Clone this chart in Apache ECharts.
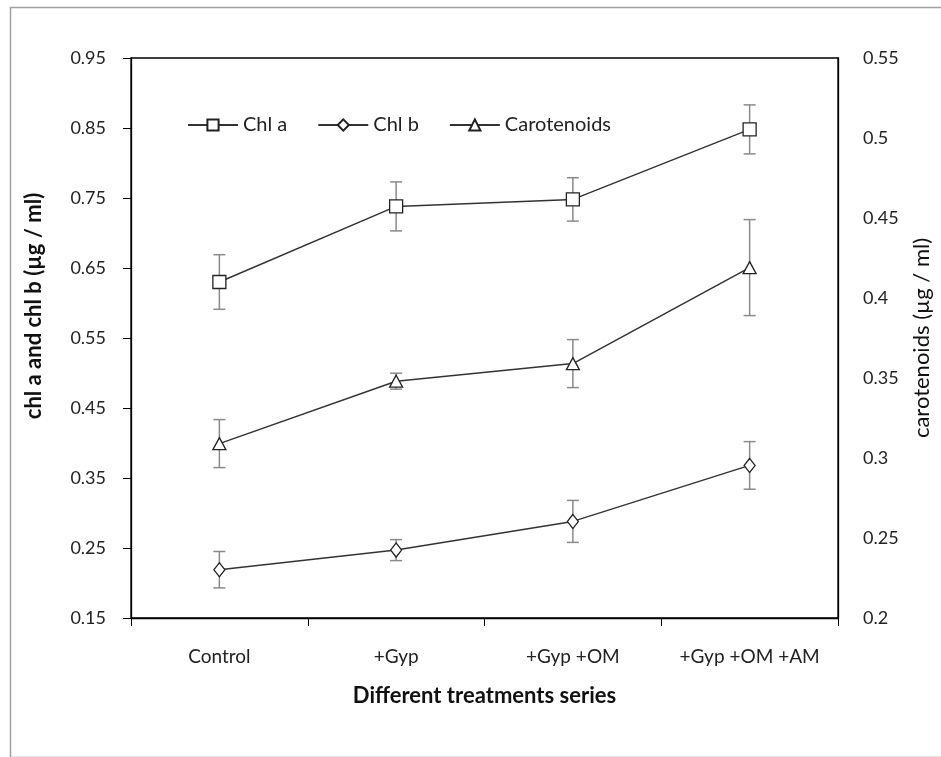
<!DOCTYPE html>
<html>
<head>
<meta charset="utf-8">
<script src="https://cdn.jsdelivr.net/npm/echarts@6/dist/echarts.min.js"></script>
<style>
  html, body { margin: 0; padding: 0; background: #fff; }
  #chart { width: 941px; height: 757px; }
</style>
</head>
<body>
<div id="chart"></div>
<script>
const categories = ["Control", "+Gyp", "+Gyp +OM", "+Gyp +OM +AM"];
const chlA = [0.63, 0.738, 0.748, 0.848];
const chlAErr = [0.039, 0.035, 0.031, 0.035];
const chlB = [0.219, 0.247, 0.288, 0.368];
const chlBErr = [0.026, 0.015, 0.03, 0.034];
const carotenoids = [0.309, 0.348, 0.359, 0.419];
const carotenoidsErr = [0.015, 0.005, 0.015, 0.03];
const leftTicks = [0.15, 0.25, 0.35, 0.45, 0.55, 0.65, 0.75, 0.85, 0.95];
const rightTicks = [0.2, 0.25, 0.3, 0.35, 0.4, 0.45, 0.5, 0.55];

const font = "Lato";
const lineColor = "#333";

// error bars: [index, low, high]
function errData(vals, errs) {
  return vals.map((v, i) => [i, v - errs[i], v + errs[i]]);
}
function renderErr(params, api) {
  const x = api.value(0);
  const lo = api.coord([x, api.value(1)]);
  const hi = api.coord([x, api.value(2)]);
  const cap = 6;
  const style = { stroke: "#8a8a8a", lineWidth: 1.5 };
  return {
    type: "group",
    children: [
      { type: "line", shape: { x1: hi[0], y1: hi[1], x2: lo[0], y2: lo[1] }, style },
      { type: "line", shape: { x1: hi[0] - cap, y1: hi[1], x2: hi[0] + cap, y2: hi[1] }, style },
      { type: "line", shape: { x1: lo[0] - cap, y1: lo[1], x2: lo[0] + cap, y2: lo[1] }, style },
    ],
  };
}
function lineSeries(name, data, symbol, size, yIdx) {
  return {
    name,
    type: "line",
    yAxisIndex: yIdx,
    data,
    symbol,
    symbolSize: size,
    showAllSymbol: true,
    z: 5,
    lineStyle: { color: lineColor, width: 1.5 },
    itemStyle: { color: "#fff", borderColor: "#222", borderWidth: 1.3 },
    emphasis: { disabled: true },
  };
}
function errSeries(vals, errs, yIdx) {
  return {
    type: "custom",
    yAxisIndex: yIdx,
    data: errData(vals, errs),
    renderItem: renderErr,
    z: 3,
    silent: true,
  };
}

const chart = echarts.init(document.getElementById("chart"));
chart.setOption({
  backgroundColor: "#fff",
  animation: false,
  textStyle: { fontFamily: font },
  graphic: [
    {
      type: "rect",
      left: 8,
      top: 5,
      shape: { width: 960, height: 750 },
      style: { fill: "none", stroke: "#a0a0a0", lineWidth: 1.5 },
      silent: true,
    },
  ],
  grid: {
    left: 131,
    right: 101,
    top: 58,
    bottom: 139,
    show: true,
    borderColor: "#000",
    borderWidth: 1.3,
    containLabel: false,
  },
  legend: {
    left: 182,
    top: 110,
    itemWidth: 50,
    itemHeight: 14,
    itemGap: 30,
    textStyle: { fontFamily: font, fontSize: 20, color: "#222" },
    data: ["Chl a", "Chl b", "Carotenoids"],
  },
  xAxis: {
    type: "category",
    data: categories,
    boundaryGap: true,
    name: "Different treatments series",
    nameLocation: "middle",
    nameGap: 67,
    nameTextStyle: { fontFamily: font, fontSize: 22, fontWeight: "bold", color: "#111" },
    axisLine: { lineStyle: { color: "#000", width: 1.3 } },
    axisTick: { show: true, interval: 0, length: 8, inside: false, lineStyle: { color: "#000" } },
    axisLabel: { interval: 0, hideOverlap: false, margin: 29, fontSize: 19, color: "#222", fontFamily: font },
  },
  yAxis: [
    {
      type: "value",
      min: 0.15,
      max: 0.95,
      name: "chl a and chl b (\u00b5g / ml)",
      nameLocation: "middle",
      nameRotate: 90,
      nameGap: 86,
      nameTextStyle: { fontFamily: font, fontSize: 22, fontWeight: "bold", color: "#111", padding: [0, 0, 0, 64] },
      axisLine: { show: true, lineStyle: { color: "#000", width: 1.3 } },
      axisTick: { show: true, length: 8, lineStyle: { color: "#000" }, customValues: leftTicks },
      axisLabel: { margin: 25, fontSize: 18, color: "#222", fontFamily: font, customValues: leftTicks },
      splitLine: { show: false },
    },
    {
      type: "value",
      position: "right",
      min: 0.2,
      max: 0.55,
      name: "carotenoids (\u00b5g / ml)",
      nameLocation: "middle",
      nameRotate: 90,
      nameGap: 73,
      nameTextStyle: { fontFamily: font, fontSize: 22, color: "#111" },
      axisLine: { show: true, lineStyle: { color: "#000", width: 1.3 } },
      axisTick: { show: false, customValues: rightTicks },
      axisLabel: { margin: 25, fontSize: 18, color: "#222", fontFamily: font, customValues: rightTicks },
      splitLine: { show: false },
    },
  ],
  series: [
    errSeries(chlA, chlAErr, 0),
    errSeries(chlB, chlBErr, 0),
    errSeries(carotenoids, carotenoidsErr, 1),
    lineSeries("Chl a", chlA, "rect", 13, 0),
    lineSeries("Chl b", chlB, "diamond", [11, 14], 0),
    lineSeries("Carotenoids", carotenoids, "triangle", [13, 12], 1),
  ],
});
</script>
</body>
</html>
